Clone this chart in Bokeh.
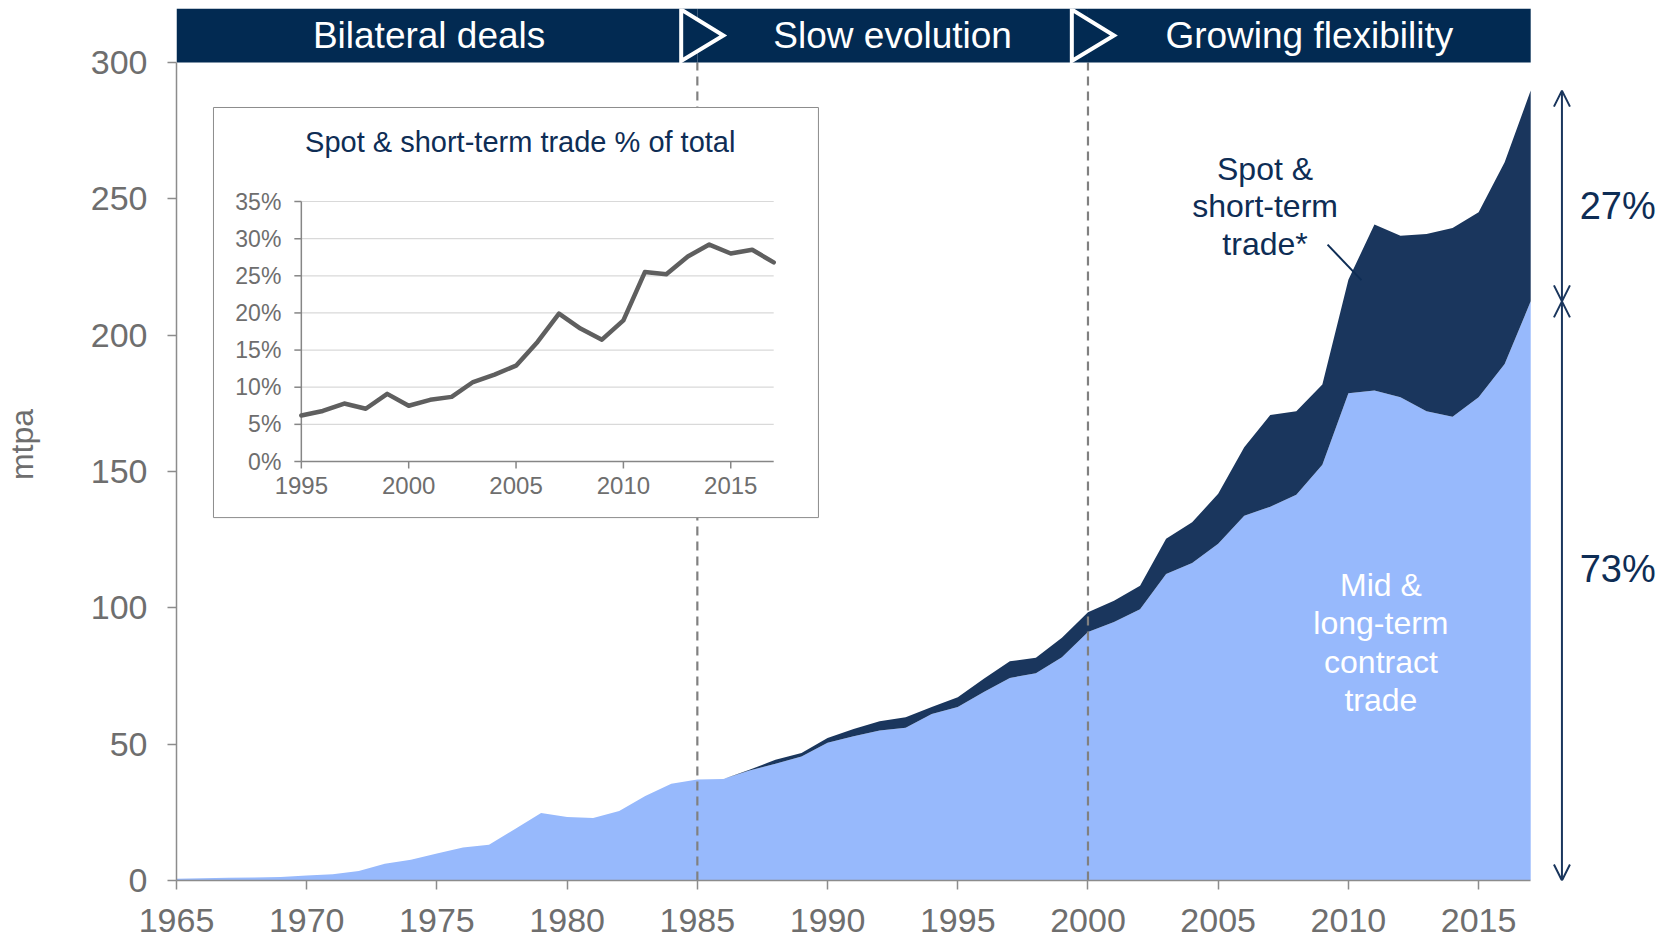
from bokeh.plotting import figure
from bokeh.models import Range1d, FixedTicker, Arrow, OpenHead
from bokeh.core.properties import value
from bokeh.embed import file_html
from bokeh.resources import INLINE

# ---------------- data ----------------
years = list(range(1965, 2018))
long_term = [0.6, 0.8, 1.0, 1.1, 1.3, 1.8, 2.3, 3.5, 6.1, 7.6,
             9.9, 12.1, 13.1, 18.9, 24.8, 23.3, 22.9, 25.5, 31.0, 35.5,
             37.0, 37.2, 40.3, 42.8, 45.5, 50.5, 52.9, 55.0, 56.0, 61.1,
             63.6, 69.1, 74.3, 76.0, 81.9, 91.1, 94.8, 99.5, 112.4, 116.4,
             123.5, 133.8, 137.1, 141.5, 152.5, 178.7, 179.7, 177.2, 172.1, 170.1,
             177.2, 189.4, 212.4]
total = [0.6, 0.8, 1.0, 1.1, 1.3, 1.8, 2.3, 3.5, 6.1, 7.6,
         9.9, 12.1, 13.1, 18.9, 24.8, 23.3, 22.9, 25.5, 31.0, 35.5,
         37.0, 37.2, 40.6, 44.3, 46.8, 52.3, 55.6, 58.4, 59.9, 63.6,
         67.2, 74.0, 80.4, 81.7, 89.0, 98.4, 102.6, 108.1, 125.3, 131.4,
         141.8, 158.9, 170.7, 172.1, 181.9, 220.3, 240.6, 236.5, 237.1, 239.3,
         245.1, 263.4, 289.7]

inset_years = list(range(1995, 2018))
inset_pct = [6.2, 6.8, 7.8, 7.1, 9.1, 7.5, 8.3, 8.7, 10.7, 11.7,
             12.9, 16.1, 19.9, 17.9, 16.4, 19.0, 25.5, 25.2, 27.6, 29.2,
             28.0, 28.5, 26.8]

y_ticks = [0, 50, 100, 150, 200, 250, 300]
x_ticks = [1965, 1970, 1975, 1980, 1985, 1990, 1995, 2000, 2005, 2010, 2015]
inset_y_ticks = [0, 5, 10, 15, 20, 25, 30, 35]
inset_x_ticks = [1995, 2000, 2005, 2010, 2015]

phases = ["Bilateral deals", "Slow evolution", "Growing flexibility"]
phase_start = [1965, 1985, 2000]
phase_end = [1985, 2000, 2017]

share_labels = ["27%", "73%"]
spot_label = ["Spot &", "short-term", "trade*"]
lt_label = ["Mid &", "long-term", "contract", "trade"]
inset_title = "Spot & short-term trade % of total"

# ---------------- styles ----------------
FONT = "Liberation Sans"
LIGHT = "#97B9FC"
DARK = "#1A365D"
BANNER = "#022A52"
NAVY_TXT = "#0E2D55"
GRAY_TXT = "#6E6E6E"
AXIS_GRAY = "#8C8C8C"

W, H = 1674, 939
FRAME_L, FRAME_T, FRAME_B = 174, 8, 59
FW, FH = W - FRAME_L, H - FRAME_T - FRAME_B


def rng(va, pa, vb, pb, extent):
    k = (vb - va) / (pb - pa)
    return Range1d(va - pa * k, va + (extent - pa) * k)


x_rng = rng(1965, 0, 2017, 1356, FW)
y_rng = rng(0, 0, 300, 818, FH)
Y_TOP = y_rng.end

p = figure(width=W, height=H, x_range=x_rng, y_range=y_rng,
           output_backend="svg", toolbar_location=None,
           min_border_left=FRAME_L, min_border_right=0,
           min_border_top=FRAME_T, min_border_bottom=FRAME_B)
p.outline_line_color = None
p.xgrid.visible = False
p.ygrid.visible = False
p.background_fill_color = "white"
p.border_fill_color = "white"

# inset ranges mapped onto a sub-region of the frame
p.extra_x_ranges = {"inset": rng(1995, 125, 2017, 598, FW)}
p.extra_y_ranges = {"inset": rng(0, 419, 35, 679, FH)}

# ---------------- main areas ----------------
p.varea(x=years, y1=[0] * len(years), y2=long_term, fill_color=LIGHT)
p.varea(x=years, y1=long_term, y2=total, fill_color=DARK)

# phase dividers
p.segment(x0=phase_start[1:], y0=[0, 0], x1=phase_start[1:], y1=[300, 300],
          line_color="#808080", line_width=2.2, line_dash="9 6")

# ---------------- axes ----------------
for ax in (p.xaxis[0], p.yaxis[0]):
    ax.axis_line_color = AXIS_GRAY
    ax.axis_line_width = 1.5
    ax.major_tick_line_color = AXIS_GRAY
    ax.major_tick_line_width = 1.5
    ax.major_tick_out = 9
    ax.major_tick_in = 0
    ax.minor_tick_out = 0
    ax.minor_tick_in = 0
    ax.major_label_text_font = FONT
    ax.major_label_text_font_size = "34px"
    ax.major_label_text_color = GRAY_TXT

p.xaxis.ticker = FixedTicker(ticks=x_ticks)
p.yaxis.ticker = FixedTicker(ticks=y_ticks)
p.xaxis.bounds = (1965, 2017)
p.yaxis.bounds = (0, 300)
p.xaxis.major_label_standoff = 19
p.yaxis.major_label_standoff = 20
p.yaxis.axis_label = "mtpa"
p.yaxis.axis_label_text_font = FONT
p.yaxis.axis_label_text_font_size = "32px"
p.yaxis.axis_label_text_font_style = "normal"
p.yaxis.axis_label_text_color = GRAY_TXT
p.yaxis.axis_label_standoff = 48

# ---------------- banner ----------------
p.quad(left=phase_start, right=phase_end, bottom=[300] * 3, top=[Y_TOP] * 3,
       fill_color=BANNER, line_color=None)
mid_b = (300 + Y_TOP) / 2
p.patches(xs=[[b - 0.62, b - 0.62, b + 1.0] for b in phase_start[1:]],
          ys=[[300.6, Y_TOP - 0.4, mid_b] for b in phase_start[1:]],
          fill_color=BANNER, line_color="white", line_width=4, line_join="miter")
phase_x = [(phase_start[0] + phase_start[1] - 0.6) / 2] + \
          [(s + e) / 2 for s, e in zip(phase_start[1:], phase_end[1:])]
p.text(x=phase_x, y=[mid_b] * 3, text=phases, text_font=value(FONT),
       text_font_size="37px", text_color="white", text_align="center",
       text_baseline="middle")

# ---------------- inset ----------------
p.quad(left=[1966.42], right=[1989.65], bottom=[133.1], top=[283.5],
       fill_color="white", line_color=AXIS_GRAY, line_width=1)
p.text(x=[1978.2], y=[270.7], text=[inset_title], text_font=value(FONT),
       text_font_size="29px", text_color=NAVY_TXT, text_align="center",
       text_baseline="middle")
IR = dict(x_range_name="inset", y_range_name="inset")
p.segment(x0=[1995] * 7, y0=inset_y_ticks[1:], x1=[2017] * 7, y1=inset_y_ticks[1:],
          line_color="#D9D9D9", line_width=1.2, **IR)
p.segment(x0=[1995, 1995], y0=[0, 0], x1=[1995, 2017], y1=[35, 0],
          line_color="#868686", line_width=1.5, **IR)
p.ray(x=[1995] * len(inset_y_ticks), y=inset_y_ticks, length=7, angle=3.14159265,
      length_units="screen", line_color="#868686", line_width=1.5, **IR)
p.ray(x=inset_x_ticks, y=[0] * len(inset_x_ticks), length=7, angle=-1.5707963,
      length_units="screen", line_color="#868686", line_width=1.5, **IR)
p.text(x=[1995] * len(inset_y_ticks), y=inset_y_ticks,
       text=[f"{v}%" for v in inset_y_ticks], x_offset=-20,
       text_font=value(FONT), text_font_size="23px", text_color=GRAY_TXT,
       text_align="right", text_baseline="middle", **IR)
p.text(x=inset_x_ticks, y=[0] * len(inset_x_ticks),
       text=[str(v) for v in inset_x_ticks], y_offset=15,
       text_font=value(FONT), text_font_size="24px", text_color=GRAY_TXT,
       text_align="center", text_baseline="top", **IR)
p.line(x=inset_years, y=inset_pct, line_color="#5F5F5F", line_width=4.5,
       line_join="round", line_cap="round", **IR)

# ---------------- labels in main chart ----------------
p.text(x=[2006.8] * 3, y=[261.1] * 3, text=spot_label, y_offset=[0, 37.5, 75],
       text_font=value(FONT), text_font_size="32px", text_color=NAVY_TXT,
       text_align="center", text_baseline="middle")
p.segment(x0=[2009.2], y0=[233.2], x1=[2010.5], y1=[220.2],
          line_color=NAVY_TXT, line_width=2)
p.text(x=[2011.25] * 4, y=[108.5] * 4, text=lt_label, y_offset=[0, 38, 77, 115],
       text_font=value(FONT), text_font_size="32px", text_color="white",
       text_align="center", text_baseline="middle")

# right-hand share arrows
ARX = 2018.2
for y0, y1 in ((total[-1], long_term[-1]), (long_term[-1], 0)):
    p.add_layout(Arrow(x_start=ARX, y_start=y0, x_end=ARX, y_end=y1,
                       start=OpenHead(size=16, line_color=DARK, line_width=2),
                       end=OpenHead(size=16, line_color=DARK, line_width=2),
                       line_color=DARK, line_width=2))
p.text(x=[2020.34, 2020.34], y=[247.2, 114.1], text=share_labels,
       text_font=value(FONT), text_font_size="38px", text_color=NAVY_TXT,
       text_align="center", text_baseline="middle")

open("out.html", "w").write(file_html(p, INLINE))
